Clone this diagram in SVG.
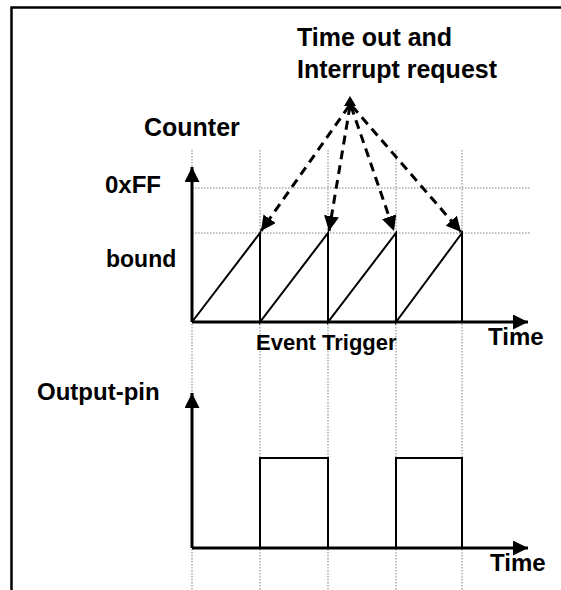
<svg xmlns="http://www.w3.org/2000/svg" width="561" height="590" viewBox="0 0 561 590">
<style>
.t{font-family:"Liberation Sans",Arial,sans-serif;font-weight:bold;font-size:24px;fill:#000}
.grid{stroke:#aaa;stroke-width:1.5;stroke-dasharray:1.5 1.5;fill:none}
.axis{stroke:#000;stroke-width:3;fill:none}
.wave{stroke:#000;stroke-width:2;fill:none}
.dash{stroke:#000;stroke-width:3;stroke-dasharray:9 6;fill:none}
</style>
<defs>
<marker id="ah" viewBox="0 0 10 10" refX="10" refY="5" markerWidth="15" markerHeight="15" markerUnits="userSpaceOnUse" orient="auto"><path d="M0,0 L10,5 L0,10 Z" fill="#000"/></marker>
</defs>
<rect width="561" height="590" fill="#fff"/>
<g id="frame"><path d="M11.5,590 V7.5 H561" stroke="#000" stroke-width="2.5" fill="none"/></g>
<g id="grid">
<path class="grid" d="M192,150 V590 M260,150 V590 M328,150 V590 M396,150 V590 M462,150 V590"/>
<path class="grid" d="M192,188 H530 M192,233 H530"/>
</g>
<g id="counter-plot">
<path class="wave" d="M192,322 L260,233 V322 L328,233 V322 L396,233 V322 L462,233 V322"/>
<line class="axis" x1="192" y1="322" x2="192" y2="167" marker-end="url(#ah)"/>
<line class="axis" x1="192" y1="322" x2="528" y2="322" marker-end="url(#ah)"/>
</g>
<g id="output-plot">
<path class="wave" d="M260,548 V458 H328 V548 M396,548 V458 H462 V548"/>
<line class="axis" x1="192" y1="548" x2="192" y2="393" marker-end="url(#ah)"/>
<line class="axis" x1="192" y1="548" x2="528" y2="548" marker-end="url(#ah)"/>
</g>
<g id="connectors">
<path d="M350,96 L344,106 L356,106 Z" fill="#000"/>
<line class="dash" x1="349" y1="106" x2="261" y2="231" marker-end="url(#ah)"/>
<line class="dash" x1="350" y1="106" x2="329" y2="231" marker-end="url(#ah)"/>
<line class="dash" x1="351" y1="106" x2="394" y2="231" marker-end="url(#ah)"/>
<line class="dash" x1="352" y1="106" x2="461" y2="232" marker-end="url(#ah)"/>
</g>
<g id="labels">
<text class="t" x="297" y="46" style="font-size:25px">Time out and</text>
<text class="t" x="297" y="78" style="font-size:25px">Interrupt request</text>
<text class="t" x="144" y="136" style="font-size:25px">Counter</text>
<text class="t" x="105" y="193">0xFF</text>
<text class="t" x="106" y="267" style="font-size:23px">bound</text>
<text class="t" x="256" y="350" style="font-size:22px">Event Trigger</text>
<text class="t" x="488" y="345">Time</text>
<text class="t" x="37" y="400">Output-pin</text>
<text class="t" x="490" y="571">Time</text>
</g>
</svg>
